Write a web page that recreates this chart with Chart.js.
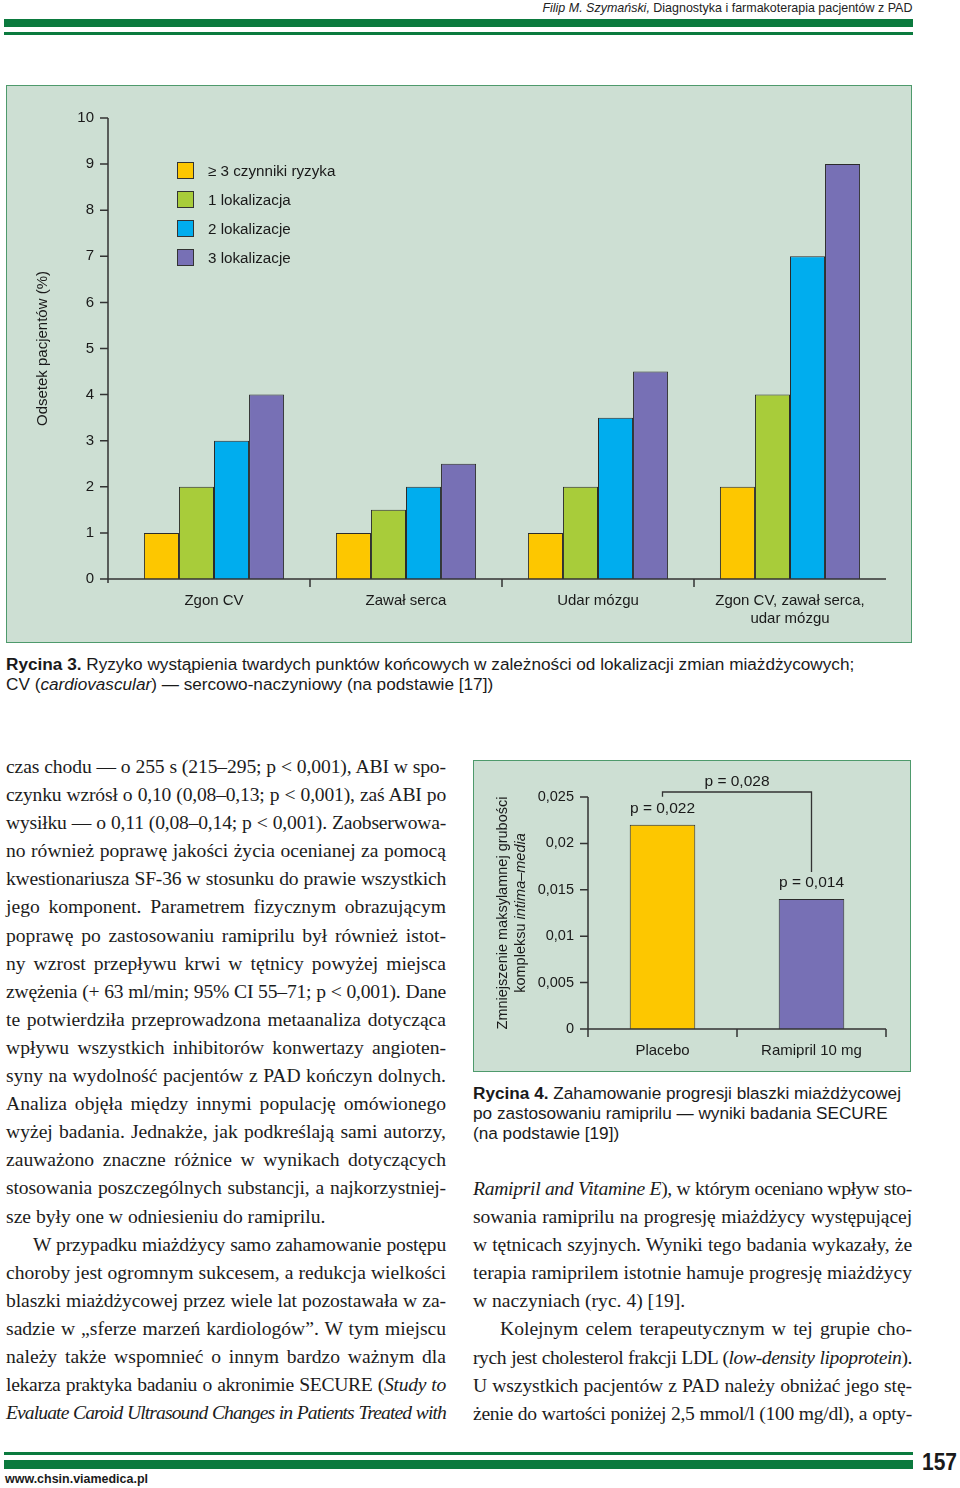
<!DOCTYPE html>
<html lang="pl">
<head>
<meta charset="utf-8">
<script src="https://cdn.jsdelivr.net/npm/chart.js@4.4.1/dist/chart.umd.min.js"></script>
<style>
  html, body { margin: 0; padding: 0; background: #fff; }
  body { width: 960px; height: 1488px; position: relative; overflow: hidden;
         font-family: "Liberation Sans", Arial, sans-serif; color: #1a1a1a; }
  .bar { position: absolute; left: 4px; width: 909px; background: #0b7a3e; }
  .fig { position: absolute; background: #cddfd3; border: 1.5px solid #4e9a6c; box-sizing: border-box; }
  .cv { position: absolute; }
  .cap { position: absolute; font-size: 17.2px; line-height: 20px; color: #1a1a1a; }
  .col { position: absolute; font-family: "Liberation Serif", "Times New Roman", serif;
         font-size: 19.6px; line-height: 28.1px; color: #1c1c1c; }
  .ln { text-align: justify; text-align-last: justify; }
  .ln.end { text-align-last: left; }
  .ln.ind { text-indent: 27px; }
  .fit { position: absolute; white-space: nowrap; display: inline-block; }
  #legend { position: absolute; left: 177px; top: 162px; font-size: 15.2px; }
  #legend .it { height: 29px; display: flex; align-items: flex-start; }
  #legend .sw { width: 17px; height: 17px; box-sizing: border-box; border: 1px solid #333; margin-right: 14px; }
  #legend .tx { line-height: 17px; }
</style>
</head>
<body>

<div class="fit" id="head" data-w="370" data-origin="right" style="right:48px; top:0; font-size:13.5px; line-height:15px; color:#222;">
  <i>Filip M. Szymański,</i> Diagnostyka i farmakoterapia pacjentów z PAD
</div>
<div class="bar" style="top:19px; height:8px;"></div>
<div class="bar" style="top:32px; height:3px;"></div>

<!-- Rycina 3 -->
<div class="fig" style="left:6px; top:85px; width:906px; height:558px;"></div>
<canvas id="chart1" class="cv" style="left:6px; top:85px;" width="906" height="558"></canvas>
<div id="legend"></div>
<div class="cap" style="left:6px; top:654px; width:920px;">
  <b>Rycina 3.</b> Ryzyko wystąpienia twardych punktów końcowych w zależności od lokalizacji zmian miażdżycowych;<br>
  CV (<i>cardiovascular</i>) — sercowo-naczyniowy (na podstawie [17])
</div>

<!-- Rycina 4 -->
<div class="fig" style="left:473px; top:760px; width:438px; height:312px;"></div>
<canvas id="chart2" class="cv" style="left:473px; top:760px;" width="438" height="312"></canvas>
<div class="cap" style="left:473px; top:1083px; width:470px;">
  <b>Rycina 4.</b> Zahamowanie progresji blaszki miażdżycowej<br>
  po zastosowaniu ramiprilu — wyniki badania SECURE<br>
  (na podstawie [19])
</div>

<!-- text columns -->
<div class="col" style="left:6px; top:753px; width:440px;">
  <div class="ln">czas chodu — o 255 s (215–295; p &lt; 0,001), ABI w spo-</div>
  <div class="ln">czynku wzrósł o 0,10 (0,08–0,13; p &lt; 0,001), zaś ABI po</div>
  <div class="ln">wysiłku — o 0,11 (0,08–0,14; p &lt; 0,001). Zaobserwowa-</div>
  <div class="ln">no również poprawę jakości życia ocenianej za pomocą</div>
  <div class="ln">kwestionariusza SF-36 w stosunku do prawie wszystkich</div>
  <div class="ln">jego komponent. Parametrem fizycznym obrazującym</div>
  <div class="ln">poprawę po zastosowaniu ramiprilu był również istot-</div>
  <div class="ln">ny wzrost przepływu krwi w tętnicy powyżej miejsca</div>
  <div class="ln">zwężenia (+ 63 ml/min; 95% CI 55–71; p &lt; 0,001). Dane</div>
  <div class="ln">te potwierdziła przeprowadzona metaanaliza dotycząca</div>
  <div class="ln">wpływu wszystkich inhibitorów konwertazy angioten-</div>
  <div class="ln">syny na wydolność pacjentów z PAD kończyn dolnych.</div>
  <div class="ln">Analiza objęła między innymi populację omówionego</div>
  <div class="ln">wyżej badania. Jednakże, jak podkreślają sami autorzy,</div>
  <div class="ln">zauważono znaczne różnice w wynikach dotyczących</div>
  <div class="ln">stosowania poszczególnych substancji, a najkorzystniej-</div>
  <div class="ln end">sze były one w odniesieniu do ramiprilu.</div>
  <div class="ln ind">W przypadku miażdżycy samo zahamowanie postępu</div>
  <div class="ln">choroby jest ogromnym sukcesem, a redukcja wielkości</div>
  <div class="ln">blaszki miażdżycowej przez wiele lat pozostawała w za-</div>
  <div class="ln">sadzie w „sferze marzeń kardiologów”. W tym miejscu</div>
  <div class="ln">należy także wspomnieć o innym bardzo ważnym dla</div>
  <div class="ln">lekarza praktyka badaniu o akronimie SECURE (<i>Study to</i></div>
  <div class="ln"><i>Evaluate Caroid Ultrasound Changes in Patients Treated with</i></div>
</div>

<div class="col" style="left:473px; top:1175px; width:439px;">
  <div class="ln"><i>Ramipril and Vitamine E</i>), w którym oceniano wpływ sto-</div>
  <div class="ln">sowania ramiprilu na progresję miażdżycy występującej</div>
  <div class="ln">w tętnicach szyjnych. Wyniki tego badania wykazały, że</div>
  <div class="ln">terapia ramiprilem istotnie hamuje progresję miażdżycy</div>
  <div class="ln end">w naczyniach (ryc. 4) [19].</div>
  <div class="ln ind">Kolejnym celem terapeutycznym w tej grupie cho-</div>
  <div class="ln">rych jest cholesterol frakcji LDL (<i>low-density lipoprotein</i>).</div>
  <div class="ln">U wszystkich pacjentów z PAD należy obniżać jego stę-</div>
  <div class="ln">żenie do wartości poniżej 2,5 mmol/l (100 mg/dl), a opty-</div>
</div>

<div class="bar" style="top:1452px; height:3px;"></div>
<div class="bar" style="top:1460px; height:9px;"></div>
<div class="fit" data-w="35" data-origin="left" style="left:922px; top:1450px; font-size:23px; font-weight:bold; line-height:25px;">157</div>
<div class="fit" data-w="143" data-origin="left" style="left:5px; top:1472px; font-size:13px; font-weight:bold; line-height:14px;">www.chsin.viamedica.pl</div>

<script>
// Rycina 3 data
const categories1 = ['Zgon CV', 'Zawał serca', 'Udar mózgu', ['Zgon CV, zawał serca,', 'udar mózgu']];
const seriesNames1 = ['≥ 3 czynniki ryzyka', '1 lokalizacja', '2 lokalizacje', '3 lokalizacje'];
const risk3 = [1, 1, 1, 2];
const loc1 = [2, 1.5, 2, 4];
const loc2 = [3, 2, 3.5, 7];
const loc3 = [4, 2.5, 4.5, 9];
const yTicks1 = [0, 1, 2, 3, 4, 5, 6, 7, 8, 9, 10];

// Rycina 4 data
const categories2 = ['Placebo', 'Ramipril 10 mg'];
const values2 = [0.022, 0.014];
const pLabels2 = ['p = 0,022', 'p = 0,014'];
const pCompare2 = 'p = 0,028';
const yTicks2 = [0, 0.005, 0.01, 0.015, 0.02, 0.025];

const colors1 = ['#fdc700', '#a8cc3a', '#00adee', '#7770b5'];
const colors2 = ['#fdc700', '#7770b5'];
const ink = '#1a1a1a';
const axisCol = '#333';
const sans = '"Liberation Sans", Arial, sans-serif';

// condensed print fonts: squeeze the line to its printed width
document.querySelectorAll('.fit').forEach(el => {
  let w = el.getBoundingClientRect().width;
  el.style.transformOrigin = el.dataset.origin + ' center';
  el.style.transform = `scaleX(${el.dataset.w / w})`;
});

// legend for Rycina 3
let leg = document.getElementById('legend');
for (let i = 0; i < seriesNames1.length; i++) {
  leg.innerHTML += `<div class="it"><div class="sw" style="background:${colors1[i]}"></div><div class="tx">${seriesNames1[i]}</div></div>`;
}

// axis lines + tick marks like in the print
const axisLines = {
  id: 'axisLines',
  afterDatasetsDraw(chart, args, opts) {
    const {ctx, chartArea: a, scales: {x, y}} = chart;
    const x0 = a.left - opts.gap;
    ctx.save();
    ctx.strokeStyle = axisCol;
    ctx.lineWidth = 1.5;
    ctx.beginPath();
    ctx.moveTo(x0, y.getPixelForValue(y.max));
    ctx.lineTo(x0, a.bottom + opts.ext);
    ctx.moveTo(x0, a.bottom);
    ctx.lineTo(a.right, a.bottom);
    y.ticks.forEach(t => {
      let py = y.getPixelForValue(t.value);
      ctx.moveTo(x0 - 8, py);
      ctx.lineTo(x0, py);
    });
    let n = x.ticks.length, w = (a.right - a.left) / n;
    for (let i = 1; i <= n; i++) {
      if (i === n && !opts.endTick) continue;
      ctx.moveTo(a.left + i * w, a.bottom);
      ctx.lineTo(a.left + i * w, a.bottom + 8);
    }
    ctx.stroke();
    ctx.restore();
  }
};

const fmtComma = v => String(+Number(v).toFixed(3)).replace('.', ',');

new Chart(document.getElementById('chart1'), {
  type: 'bar',
  data: {
    labels: categories1,
    datasets: [risk3, loc1, loc2, loc3].map((d, i) => ({
      label: seriesNames1[i],
      data: d,
      backgroundColor: colors1[i],
      borderColor: '#2b2b2b',
      borderWidth: 1,
      categoryPercentage: 0.73,
      barPercentage: 1.0,
    }))
  },
  options: {
    responsive: false,
    animation: false,
    layout: { padding: { left: 0, right: 26, top: 30, bottom: 0 } },
    plugins: {
      legend: { display: false },
      tooltip: { enabled: false },
      axisLines: { gap: 10, ext: 4, endTick: false },
    },
    scales: {
      x: {
        grid: { display: false, drawTicks: false },
        border: { display: false },
        ticks: { color: ink, font: { family: sans, size: 15, lineHeight: 1.2 }, padding: 13, maxRotation: 0, autoSkip: false },
        afterFit: s => { s.height = 64; },
      },
      y: {
        min: 0, max: 10,
        grid: { display: false, drawTicks: false },
        border: { display: false },
        afterBuildTicks: s => { s.ticks = yTicks1.map(v => ({ value: v })); },
        ticks: { color: ink, font: { family: sans, size: 15 }, padding: 24 },
        title: { display: true, text: 'Odsetek pacjentów (%)', color: ink, font: { family: sans, size: 15 }, padding: { top: 28, bottom: 0 } },
        afterFit: s => { s.width = 112; },
      }
    }
  },
  plugins: [axisLines]
});

// p-values, bracket and two-line y title of Rycina 4
const ryc4Extras = {
  id: 'ryc4Extras',
  afterDatasetsDraw(chart) {
    const {ctx, chartArea: a, scales: {y}} = chart;
    const bars = chart.getDatasetMeta(0).data;
    ctx.save();
    ctx.fillStyle = ink;
    ctx.font = '15.5px ' + sans;
    ctx.textAlign = 'center';
    ctx.textBaseline = 'middle';
    bars.forEach((b, i) => ctx.fillText(pLabels2[i], b.x, b.y - 16));
    let top = y.getPixelForValue(y.max) - 5;
    ctx.strokeStyle = axisCol;
    ctx.lineWidth = 1.3;
    ctx.beginPath();
    ctx.moveTo(bars[0].x, bars[0].y - 28);
    ctx.lineTo(bars[0].x, top);
    ctx.lineTo(bars[1].x, top);
    ctx.lineTo(bars[1].x, bars[1].y - 27);
    ctx.stroke();
    ctx.fillText(pCompare2, (bars[0].x + bars[1].x) / 2, top - 10);

    // y title
    ctx.font = '14.5px ' + sans;
    ctx.translate(39, (a.top + a.bottom) / 2);
    ctx.rotate(-Math.PI / 2);
    ctx.fillText('Zmniejszenie maksylamnej grubości', 0, -9);
    let p1 = 'kompleksu ', p2 = 'intima–media';
    let w1 = ctx.measureText(p1).width;
    ctx.font = 'italic 14.5px ' + sans;
    let w2 = ctx.measureText(p2).width;
    ctx.textAlign = 'left';
    ctx.font = '14.5px ' + sans;
    ctx.fillText(p1, -(w1 + w2) / 2, 9);
    ctx.font = 'italic 14.5px ' + sans;
    ctx.fillText(p2, -(w1 + w2) / 2 + w1, 9);
    ctx.restore();
  }
};

new Chart(document.getElementById('chart2'), {
  type: 'bar',
  data: {
    labels: categories2,
    datasets: [{
      label: 'Ryc. 4',
      data: values2,
      backgroundColor: colors2,
      borderColor: '#2b2b2b',
      borderWidth: 1,
      categoryPercentage: 0.44,
      barPercentage: 1.0,
    }]
  },
  options: {
    responsive: false,
    animation: false,
    layout: { padding: { left: 0, right: 25, top: 37, bottom: 0 } },
    plugins: {
      legend: { display: false },
      tooltip: { enabled: false },
      axisLines: { gap: 0, ext: 8, endTick: true },
    },
    scales: {
      x: {
        grid: { display: false, drawTicks: false },
        border: { display: false },
        ticks: { color: ink, font: { family: sans, size: 15 }, padding: 13, maxRotation: 0 },
        afterFit: s => { s.height = 43; },
      },
      y: {
        min: 0, max: 0.025,
        grid: { display: false, drawTicks: false },
        border: { display: false },
        afterBuildTicks: s => { s.ticks = yTicks2.map(v => ({ value: v })); },
        ticks: { color: ink, font: { family: sans, size: 14.5 }, padding: 14, callback: v => fmtComma(v) },
        afterFit: s => { s.width = 115; },
      }
    }
  },
  plugins: [axisLines, ryc4Extras]
});

// keep each printed line on one row
document.querySelectorAll('.ln').forEach(el => {
  let ls = 0;
  while (el.offsetHeight > 30 && ls > -1.5) {
    ls -= 0.1;
    el.style.letterSpacing = ls + 'px';
  }
});
</script>
</body>
</html>
